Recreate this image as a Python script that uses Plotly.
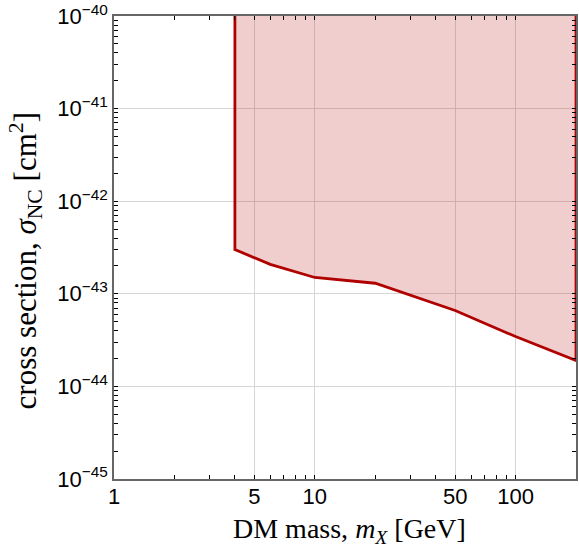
import plotly.graph_objects as go

# Data
mass = [4, 4, 6, 10, 20, 50, 100, 200, 200]
sigma = [1e-40, 3.0e-43, 2.08e-43, 1.5e-43, 1.30e-43, 6.6e-44, 3.45e-44, 1.9e-44, 1e-40]

x_major = [1, 5, 10, 50, 100]
x_major_text = ["1", "5", "10", "50", "100"]
x_minor = [2, 3, 4, 6, 7, 8, 9, 20, 30, 40, 60, 70, 80, 90, 200]
y_exps = [-45, -44, -43, -42, -41, -40]
y_major = [float("1e%d" % e) for e in y_exps]
y_major_text = ["10<sup>\u2212%d</sup>" % (-e) for e in y_exps]
y_minor = [float("%de%d" % (m, e)) for e in range(-45, -40) for m in range(2, 10)]

x_title = "DM mass, <i>m<sub>X</sub></i> [GeV]"
y_title = "cross section, <i>\u03c3</i><sub>NC</sub> [cm<sup>2</sup>]"

fill_color = "rgba(190,30,30,0.22)"
line_color = "#B00000"

fig = go.Figure()
fig.add_trace(go.Scatter(x=mass, y=sigma, mode="lines", fill="toself",
                         fillcolor=fill_color, line=dict(width=0),
                         hoverinfo="skip", showlegend=False))
fig.add_trace(go.Scatter(x=mass, y=sigma, mode="lines",
                         line=dict(color=line_color, width=2.8),
                         showlegend=False))

axis_common = dict(
    showline=True, linecolor="#666666", linewidth=1.5, mirror="ticks",
    ticks="inside", ticklen=4, tickwidth=1.2, tickcolor="black",
    showgrid=True, gridcolor="#d6d6d6", gridwidth=1, zeroline=False,
    tickfont=dict(family="Liberation Sans, Arial", size=22, color="black"),
)

fig.update_xaxes(
    type="log", range=[-0.0002, 2.30103],
    tickmode="array", tickvals=x_major, ticktext=x_major_text,
    ticklabelstandoff=-3,
    minor=dict(tickmode="array", tickvals=x_minor, ticks="inside", ticklen=4,
               tickwidth=1.2, tickcolor="black", showgrid=False),
    **axis_common,
)
fig.update_yaxes(
    type="log", range=[-45.0005, -39.9995],
    tickmode="array", tickvals=y_major, ticktext=y_major_text,
    minor=dict(tickmode="array", tickvals=y_minor, ticks="inside", ticklen=4,
               tickwidth=1.2, tickcolor="black", showgrid=False),
    **axis_common,
)

fig.add_annotation(text=x_title, xref="paper", yref="paper",
                   x=0.5, xshift=4, y=0, yshift=-51, xanchor="center", yanchor="middle",
                   showarrow=False,
                   font=dict(family="Liberation Serif, Times New Roman", size=28, color="black"))
fig.add_annotation(text=y_title, xref="paper", yref="paper",
                   x=0, xshift=-88, y=0.47, xanchor="center", yanchor="middle",
                   textangle=-90, showarrow=False,
                   font=dict(family="Liberation Serif, Times New Roman", size=31, color="black"))

fig.update_layout(
    width=579, height=552,
    margin=dict(l=114, r=1, t=16, b=73),
    plot_bgcolor="white", paper_bgcolor="white",
)

fig.write_html("out.html")
